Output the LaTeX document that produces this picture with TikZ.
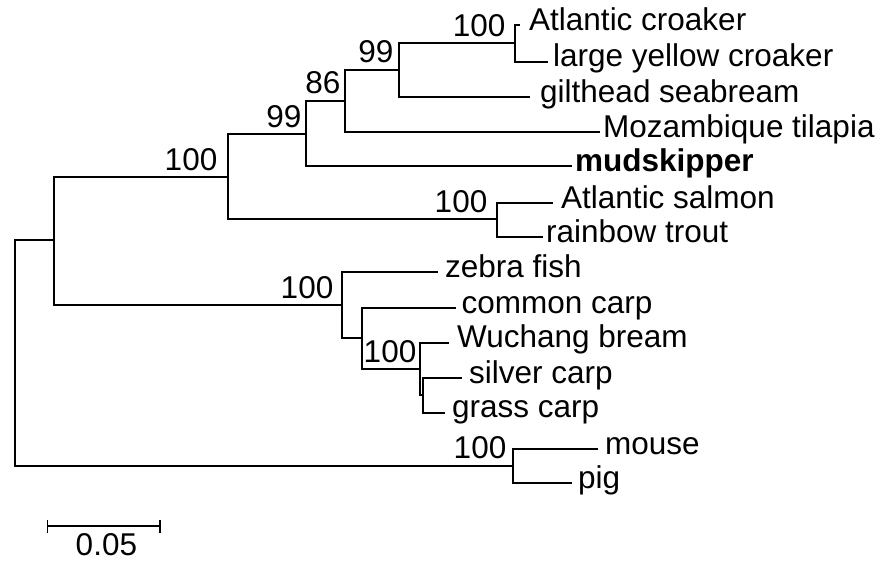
\documentclass[tikz,border=0pt]{standalone}
\usepackage{fontspec}
\setmainfont{Liberation Sans}
\usetikzlibrary{calc}
\tikzset{
  br/.style={line width=2pt, line join=miter},
  sbar/.style={line width=1.3pt},
  leaf/.style={anchor=base west, inner sep=0pt, font=\fontsize{31.5}{36}\selectfont},
  boot/.style={anchor=base east, inner sep=0pt, font=\fontsize{31.5}{36}\selectfont},
  sblabel/.style={anchor=base, inner sep=0pt, font=\fontsize{31.5}{36}\selectfont}
}
\begin{document}
\begin{tikzpicture}[x=1pt,y=-1pt]
\useasboundingbox (0,0) rectangle (883,561);
% internal nodes
\coordinate (R) at (15,353);
\coordinate (A) at (54,240);
\coordinate (B) at (228,177);
\coordinate (C) at (306,134);
\coordinate (D) at (345,101);
\coordinate (E) at (399,70);
\coordinate (F) at (515,43);
\coordinate (G) at (497,219);
\coordinate (H) at (342,305);
\coordinate (I) at (362,338);
\coordinate (J) at (420,369);
\coordinate (K) at (423,395);
\coordinate (L) at (513,466);
% leaf tips
\coordinate (ac) at (520,25);
\coordinate (lyc) at (548,62);
\coordinate (gs) at (530,97);
\coordinate (mt) at (600,132);
\coordinate (ms) at (572,166);
\coordinate (as) at (553,203);
\coordinate (rt) at (543,237);
\coordinate (zf) at (438,272);
\coordinate (cc) at (456,308);
\coordinate (wb) at (449,343);
\coordinate (sc) at (462,378);
\coordinate (gc) at (445,413);
\coordinate (mo) at (598,449);
\coordinate (pg) at (572,483);
% branches
\draw[br] (R) |- (A);  \draw[br] (R) |- (L);
\draw[br] (A) |- (B);  \draw[br] (A) |- (H);
\draw[br] (B) |- (C);  \draw[br] (B) |- (G);
\draw[br] (C) |- (D);  \draw[br] (C) |- (ms);
\draw[br] (D) |- (E);  \draw[br] (D) |- (mt);
\draw[br] (E) |- (F);  \draw[br] (E) |- (gs);
\draw[br] (F) |- (ac); \draw[br] (F) |- (lyc);
\draw[br] (G) |- (as); \draw[br] (G) |- (rt);
\draw[br] (H) |- (zf); \draw[br] (H) |- (I);
\draw[br] (I) |- (cc); \draw[br] (I) |- (J);
\draw[br] (J) |- (wb); \draw[br] (J) |- (K);
\draw[br] (K) |- (sc); \draw[br] (K) |- (gc);
\draw[br] (L) |- (mo); \draw[br] (L) |- (pg);
% leaf labels
\node[leaf] (tac)  at ($(ac)+(9,6)$)   {Atlantic croaker};
\node[leaf] (tlyc) at ($(lyc)+(5,4.5)$) {large yellow croaker};
\node[leaf] (tgs)  at ($(gs)+(10,5.5)$)  {gilthead seabream};
\node[leaf] (tmt)  at ($(mt)+(3,6)$)   {Mozambique tilapia};
\node[leaf] (tms)  at ($(ms)+(3,5.5)$)   {\bfseries mudskipper};
\node[leaf] (tas)  at ($(as)+(8,5.5)$)   {Atlantic salmon};
\node[leaf] (trt)  at ($(rt)+(3,6)$)   {rainbow trout};
\node[leaf] (tzf)  at ($(zf)+(7,5.5)$)   {zebra fish};
\node[leaf] (tcc)  at ($(cc)+(5.5,5.5)$) {common carp};
\node[leaf] (twb)  at ($(wb)+(8,4.5)$)   {Wuchang bream};
\node[leaf] (tsc)  at ($(sc)+(7,5)$)   {silver carp};
\node[leaf] (tgc)  at ($(gc)+(7,4.5)$)   {grass carp};
\node[leaf] (tmo)  at ($(mo)+(7,5.5)$)   {mouse};
\node[leaf] (tpg)  at ($(pg)+(6,5)$)   {pig};
% bootstrap values
\node[boot] (bA) at (217.5,170.3) {100};
\node[boot] (bC) at (301.5,127.5) {99};
\node[boot] (bD) at (340.5,93.5) {86};
\node[boot] (bE) at (393.5,62.5) {99};
\node[boot] (bF) at (505.5,36.5) {100};
\node[boot] (bG) at (487.5,212.5) {100};
\node[boot] (bH) at (333.5,298.5) {100};
\node[boot] (bJ) at (416.5,362.5) {100};
\node[boot] (bL) at (506.5,458) {100};
% scale bar
\coordinate (s1) at (47.5,526);
\coordinate (s2) at (160,526);
\draw[sbar] (s1) -- (s2);
\draw[sbar] ($(s1)+(0,-6)$) -- ($(s1)+(0,7)$);
\draw[sbar] ($(s2)+(0,-6)$) -- ($(s2)+(0,7)$);
\node[sblabel] (sl) at (106.4,555.5) {0.05};
\end{tikzpicture}
\end{document}
